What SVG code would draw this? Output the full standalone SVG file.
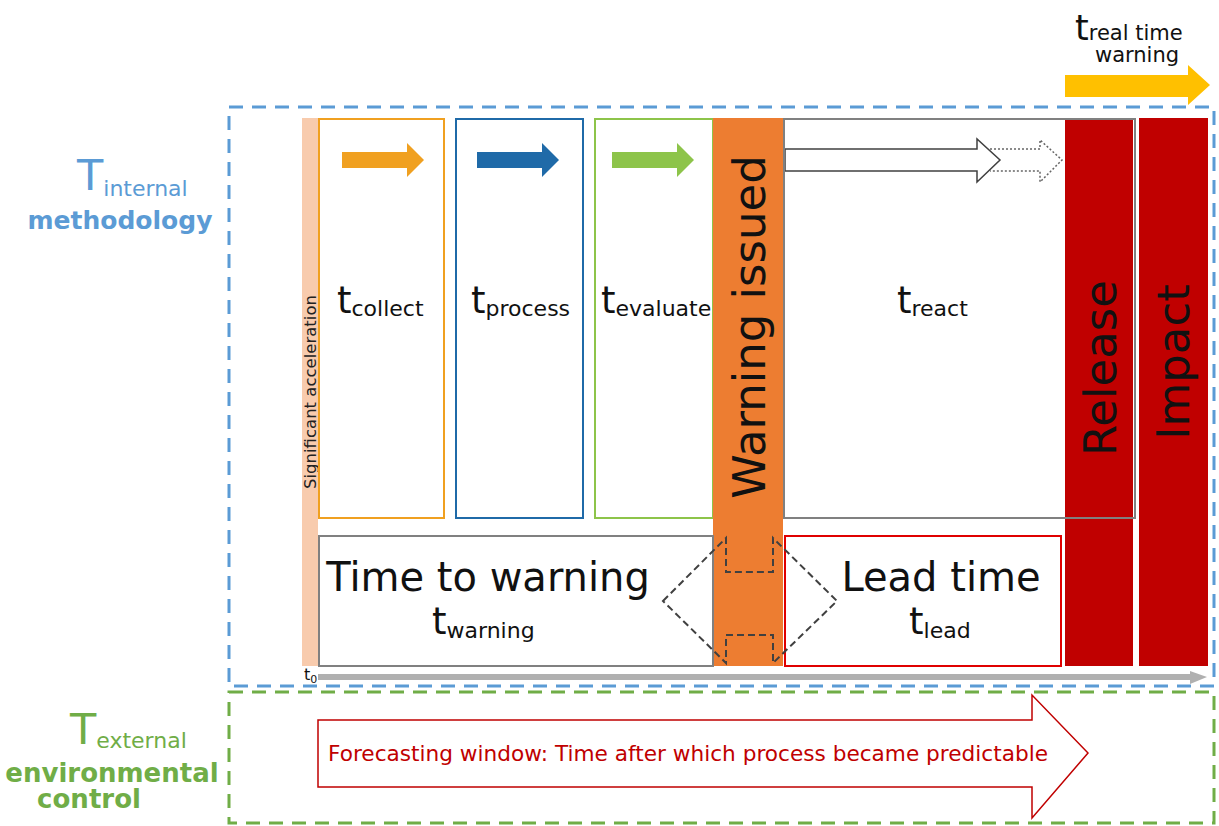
<svg xmlns="http://www.w3.org/2000/svg" width="1219" height="826" viewBox="0 0 1219 826">
  <style>
    text { font-family: "DejaVu Sans", Verdana, sans-serif; }
    .frame { fill: none; stroke-width: 3; stroke-dasharray: 14 9; }
    .stage { fill: #fff; stroke-width: 2; }
    .big { font-size: 40px; fill: #111; }
    .tt { font-size: 37px; fill: #111; }
    .sub { font-size: 22px; fill: #111; }
    .vert { font-size: 45px; fill: #111; }
  </style>

  <!-- left-hand legend labels -->
  <g id="label-internal" fill="#5b9bd5">
    <text x="77" y="190" font-size="43">T<tspan font-size="22" dy="6">internal</tspan></text>
    <text x="120" y="229" font-size="25" font-weight="bold" text-anchor="middle">methodology</text>
  </g>
  <g id="label-external" fill="#70ad47">
    <text x="70" y="744" font-size="43">T<tspan font-size="22" dy="4">external</tspan></text>
    <text x="112" y="782" font-size="26" font-weight="bold" text-anchor="middle">environmental</text>
    <text x="89" y="808" font-size="26" font-weight="bold" text-anchor="middle">control</text>
  </g>

  <!-- dashed frames -->
  <g id="frame-internal">
    <rect class="frame" x="229" y="107" width="985" height="579" stroke="#5b9bd5"/>
  </g>
  <g id="frame-external">
    <rect class="frame" x="229" y="692" width="985" height="131" stroke="#70ad47"/>
  </g>

  <!-- real-time warning -->
  <g id="real-time-warning">
    <text x="1075" y="40" font-size="35" fill="#111">t<tspan font-size="21">real time</tspan></text>
    <text x="1137" y="62" font-size="21" fill="#111" text-anchor="middle">warning</text>
    <polygon points="1065,75 1188,75 1188,65 1210,85 1188,105 1188,97 1065,97" fill="#ffc000"/>
  </g>

  <!-- significant acceleration bar -->
  <g id="significant-acceleration">
    <rect x="302" y="118" width="16" height="548" fill="#f8cbad"/>
    <text transform="translate(316,392) rotate(-90)" font-size="16.5" fill="#222" text-anchor="middle">Significant acceleration</text>
  </g>

  <!-- processing stages -->
  <g id="stage-collect">
    <rect class="stage" x="319" y="119" width="125" height="399" stroke="#f0a020"/>
    <polygon points="342,152 407,152 407,143 424,160 407,177 407,168 342,168" fill="#f0a020"/>
    <text x="337" y="313" class="tt">t<tspan class="sub" dy="3">collect</tspan></text>
  </g>
  <g id="stage-process">
    <rect class="stage" x="456" y="119" width="127" height="399" stroke="#1f6aa8"/>
    <polygon points="477,152 542,152 542,143 559,160 542,177 542,168 477,168" fill="#1f6aa8"/>
    <text x="471" y="313" class="tt">t<tspan class="sub" dy="3">process</tspan></text>
  </g>
  <g id="stage-evaluate">
    <rect class="stage" x="595" y="119" width="118" height="399" stroke="#8dc44a"/>
    <polygon points="612,152 677,152 677,143 694,160 677,177 677,168 612,168" fill="#8dc44a"/>
    <text x="601" y="313" class="tt">t<tspan class="sub" dy="3">evaluate</tspan></text>
  </g>

  <!-- warning issued bar -->
  <g id="warning-issued">
    <rect x="713" y="118" width="70" height="548" fill="#ed7d31"/>
    <text transform="translate(765,327) rotate(-90)" class="vert" font-size="47" text-anchor="middle">Warning issued</text>
  </g>

  <!-- reaction stage -->
  <g id="stage-react">
    <rect class="stage" x="784" y="119" width="351" height="399" stroke="#808080"/>
    <polygon points="785,149 977,149 977,139 1000,160 977,182 977,171 785,171" fill="#fff" stroke="#404040" stroke-width="1.5"/>
    <polyline points="990,149 1040,149 1040,140 1062,160 1040,182 1040,171 990,171" fill="none" stroke="#666" stroke-width="1.5" stroke-dasharray="2 2"/>
    <text x="897" y="313" class="tt">t<tspan class="sub" dy="3">react</tspan></text>
  </g>

  <!-- release / impact bars -->
  <g id="release">
    <rect x="1065" y="118" width="68" height="548" fill="#c00000"/>
    <text transform="translate(1116,368) rotate(-90)" class="vert" text-anchor="middle">Release</text>
  </g>
  <g id="impact">
    <rect x="1139" y="118" width="69" height="548" fill="#c00000"/>
    <text transform="translate(1189,362) rotate(-90)" class="vert" text-anchor="middle">Impact</text>
  </g>
  <!-- outline of the reaction window running over the release bar -->
  <rect x="784" y="119" width="351" height="399" fill="none" stroke="#808080" stroke-width="2"/>

  <!-- time to warning -->
  <g id="time-to-warning">
    <rect class="stage" x="319" y="536" width="394" height="130" stroke="#808080"/>
    <text x="488" y="591" class="big" text-anchor="middle">Time to warning</text>
    <text x="432" y="634" class="tt">t<tspan class="sub" dy="4">warning</tspan></text>
  </g>

  <!-- lead time -->
  <g id="lead-time">
    <rect class="stage" x="785" y="536" width="276" height="130" stroke="#e00000"/>
    <text x="941" y="591" class="big" text-anchor="middle">Lead time</text>
    <text x="909" y="634" class="tt">t<tspan class="sub" dy="4">lead</tspan></text>
  </g>

  <!-- connectors -->
  <g id="connectors">
    <!-- dashed double arrow across the warning bar -->
    <polygon points="663,601 726,538 726,572 773,572 773,538 837,601 773,663 773,635 726,635 726,663" fill="none" stroke="#404040" stroke-width="2" stroke-dasharray="7 4"/>
    <!-- time axis -->
    <line x1="318" y1="677" x2="1192" y2="677" stroke="#b0b0b0" stroke-width="6"/>
    <polygon points="1190,671 1207,677 1190,684" fill="#b0b0b0"/>
  </g>

  <g id="t0">
    <text x="304" y="680" font-size="16" fill="#111">t<tspan font-size="11" dy="3">0</tspan></text>
  </g>

  <!-- forecasting window -->
  <g id="forecasting-window">
    <polygon points="318,720 1032,720 1032,695 1088,753 1032,818 1032,787 318,787" fill="#fff" stroke="#c00000" stroke-width="1.5"/>
    <text x="328" y="761" font-size="22" fill="#c00000" textLength="720" lengthAdjust="spacingAndGlyphs">Forecasting window: Time after which process became predictable</text>
  </g>
</svg>
